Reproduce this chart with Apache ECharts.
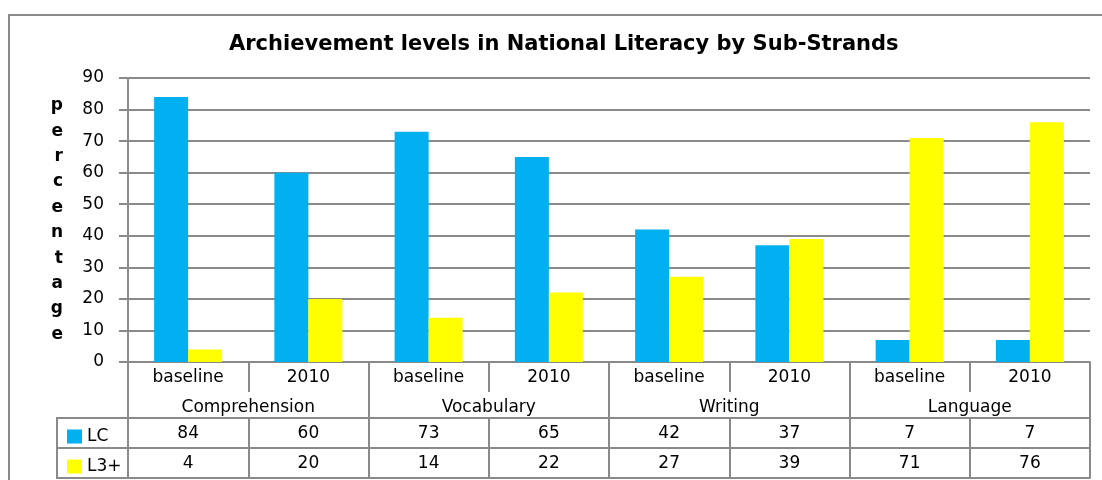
<!DOCTYPE html>
<html><head><meta charset="utf-8">
<script src="https://cdn.jsdelivr.net/npm/echarts@6/dist/echarts.min.js"></script>
<style>html,body{margin:0;padding:0;background:#fff}#c{width:1102px;height:480px}</style>
</head><body><div id="c"></div>
<script>
const titleText = 'Archievement levels in National Literacy by Sub-Strands';
const subCategories = ['baseline','2010','baseline','2010','baseline','2010','baseline','2010'];
const groups = ['Comprehension','Vocabulary','Writing','Language'];
const lcValues = [84,60,73,65,42,37,7,7];
const l3Values = [4,20,14,22,27,39,71,76];
const seriesNames = ['LC','L3+'];
const yLabelLetters = 'percentage'.split('');

const GREY = '#8a8a8a';
const FONT = 'DejaVu Sans';
const FS = 17;
const gridL = 128, gridR = 12, gridT = 78, gridB = 118;

function tableAxis(data, offset, tickLen, showLine, labels) {
  return {
    type: 'category', data: data, position: 'bottom', offset: offset,
    axisLine: {show: showLine, lineStyle: {color: GREY, width: 2}},
    axisTick: {show: tickLen > 0, interval: 0, length: tickLen, inside: false, lineStyle: {color: GREY, width: 2}},
    axisLabel: {show: labels, interval: 0, color: '#000', fontFamily: FONT, fontSize: FS, margin: 7},
    splitLine: {show: false}
  };
}

const chart = echarts.init(document.getElementById('c'), null, {renderer: 'canvas'});
chart.setOption({
  animation: false,
  title: {text: titleText, left: 224, top: 29,
    textStyle: {fontFamily: FONT, fontSize: 21, fontWeight: 'bold', color: '#000'}},
  grid: {left: gridL, right: gridR, top: gridT, bottom: gridB, containLabel: false},
  legend: [
    {data: [seriesNames[0]], left: 62, top: 423, icon: 'rect', itemWidth: 15, itemHeight: 14, itemGap: 4,
      textStyle: {fontFamily: FONT, fontSize: FS, color: '#000', padding: [0,0,0,0]}},
    {data: [seriesNames[1]], left: 62, top: 453, icon: 'rect', itemWidth: 15, itemHeight: 14, itemGap: 4,
      textStyle: {fontFamily: FONT, fontSize: FS, color: '#000', padding: [0,0,0,0]}}
  ],
  xAxis: [
    tableAxis(subCategories, 0, 30, true, true),
    tableAxis(groups, 30, 26, false, true),
    tableAxis(lcValues.map(String), 56, 30, true, true),
    tableAxis(l3Values.map(String), 86, 30, true, true),
    tableAxis(subCategories, 116, 0, true, false)
  ],
  yAxis: {
    type: 'value', min: 0, max: 90, interval: 10,
    name: yLabelLetters.join('\n'), nameLocation: 'middle', nameGap: 65, nameRotate: 0,
    nameTextStyle: {fontFamily: FONT, fontSize: 17, fontWeight: 'bold', color: '#000', lineHeight: 25.4},
    axisLine: {show: true, lineStyle: {color: GREY, width: 2}},
    axisTick: {show: true, length: 9, lineStyle: {color: GREY, width: 2}},
    axisLabel: {color: '#000', fontFamily: FONT, fontSize: FS, margin: 24},
    splitLine: {show: true, lineStyle: {color: GREY, width: 2}}
  },
  series: [
    {name: seriesNames[0], type: 'bar', data: lcValues, itemStyle: {color: '#00B0F0'}, barWidth: 34, barGap: '0%'},
    {name: seriesNames[1], type: 'bar', data: l3Values, itemStyle: {color: '#FFFF00'}, barWidth: 34, barGap: '0%'}
  ],
  graphic: [
    {type: 'rect', shape: {x: 9, y: 15, width: 1120, height: 520}, style: {fill: null, stroke: GREY, lineWidth: 2}, silent: true},
    {type: 'line', shape: {x1: 57, y1: 418, x2: 128, y2: 418}, style: {stroke: GREY, lineWidth: 2}},
    {type: 'line', shape: {x1: 57, y1: 448, x2: 128, y2: 448}, style: {stroke: GREY, lineWidth: 2}},
    {type: 'line', shape: {x1: 57, y1: 478, x2: 128, y2: 478}, style: {stroke: GREY, lineWidth: 2}},
    {type: 'line', shape: {x1: 57, y1: 417, x2: 57, y2: 479}, style: {stroke: GREY, lineWidth: 2}}
  ]
});
</script></body></html>
